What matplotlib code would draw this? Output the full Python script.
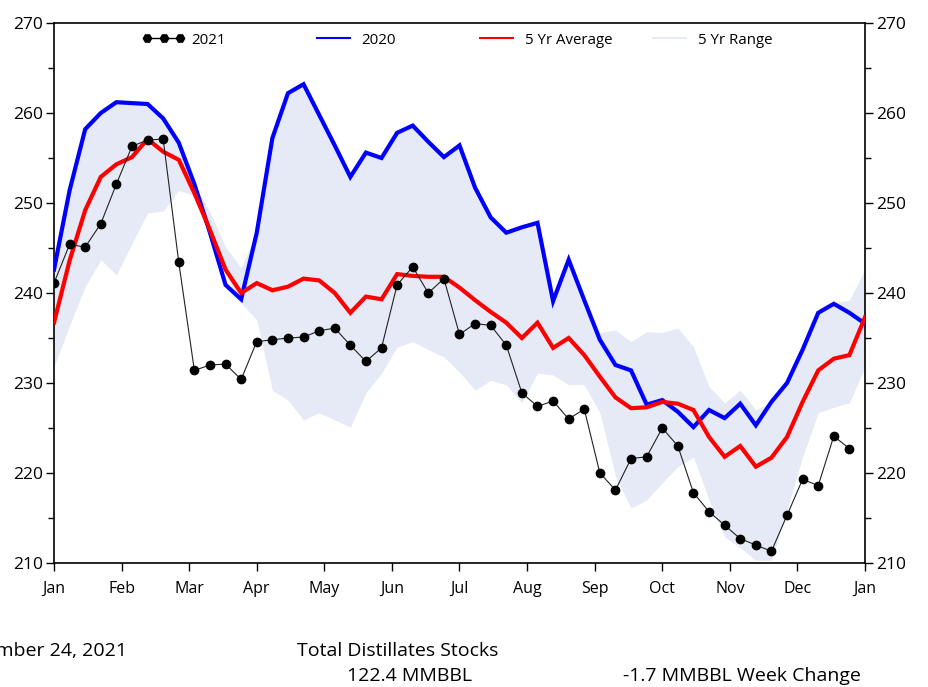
import matplotlib
matplotlib.use("Agg")
import matplotlib.pyplot as plt
from matplotlib.lines import Line2D
from matplotlib.legend import Legend
from matplotlib.ticker import MultipleLocator
import numpy as np

plt.rcParams['font.family'] = ['Open Sans', 'DejaVu Sans']

months = ["Jan", "Feb", "Mar", "Apr", "May", "Jun", "Jul", "Aug", "Sep", "Oct", "Nov", "Dec", "Jan"]

stocks_2021 = [241.1, 245.4, 245.1, 247.7, 252.1, 256.3, 257.0, 257.1, 243.4, 231.4,
               232.0, 232.1, 230.4, 234.6, 234.8, 235.0, 235.1, 235.8, 236.1, 234.2,
               232.4, 233.9, 240.9, 242.9, 240.0, 241.6, 235.4, 236.6, 236.4, 234.2,
               228.9, 227.4, 228.0, 226.0, 227.1, 220.0, 218.1, 221.6, 221.8, 225.0,
               223.0, 217.8, 215.7, 214.2, 212.7, 212.0, 211.3, 215.3, 219.3, 218.6,
               224.1, 222.7]

stocks_2020 = [242.6, 251.4, 258.2, 260.0, 261.2, 261.1, 261.0, 259.4, 256.7, 252.1,
               246.7, 240.9, 239.3, 246.7, 257.2, 262.2, 263.2, 259.8, 256.4, 252.9,
               255.6, 255.0, 257.8, 258.6, 256.8, 255.1, 256.4, 251.7, 248.4, 246.7,
               247.3, 247.8, 239.1, 243.7, 239.2, 234.8, 232.0, 231.4, 227.6, 228.1,
               226.8, 225.1, 227.0, 226.1, 227.7, 225.3, 227.9, 230.0, 233.7, 237.8,
               238.8, 237.8, 236.6]

avg_5yr = [236.7, 243.6, 249.2, 252.9, 254.3, 255.1, 257.1, 255.7, 254.8, 251.1,
           247.0, 242.6, 240.0, 241.1, 240.3, 240.7, 241.6, 241.4, 240.0, 237.8,
           239.6, 239.3, 242.1, 241.9, 241.8, 241.8, 240.6, 239.2, 237.9, 236.7,
           235.0, 236.7, 233.9, 235.0, 233.1, 230.7, 228.4, 227.2, 227.3, 227.9,
           227.7, 227.0, 224.0, 221.8, 223.0, 220.7, 221.7, 224.0, 227.9, 231.4,
           232.7, 233.1, 237.3]

range_high = [242.6, 251.4, 258.2, 260.0, 261.2, 261.1, 261.0, 259.4, 256.7, 252.1,
              249.0, 245.1, 242.8, 246.7, 257.2, 262.2, 263.2, 259.8, 256.4, 252.9,
              255.6, 255.0, 257.8, 258.6, 256.8, 255.1, 256.4, 251.7, 248.4, 246.7,
              247.3, 247.8, 239.2, 243.7, 239.2, 235.6, 235.9, 234.6, 235.7, 235.6,
              236.1, 234.0, 229.6, 227.8, 229.2, 227.0, 227.9, 230.0, 233.7, 237.9,
              238.9, 239.2, 242.6]

range_low = [231.8, 236.4, 240.7, 243.7, 242.0, 245.5, 248.9, 249.1, 251.4, 250.8,
             246.5, 242.0, 238.9, 237.0, 229.2, 228.1, 225.9, 226.7, 225.9, 225.1,
             228.9, 231.1, 234.0, 234.6, 233.7, 232.9, 231.2, 229.2, 230.3, 229.8,
             227.8, 231.1, 230.9, 229.8, 229.8, 226.7, 219.6, 216.1, 217.0, 218.9,
             220.7, 221.8, 217.0, 212.9, 211.7, 210.3, 210.3, 215.9, 221.8, 226.7,
             227.3, 227.8, 231.8]

bottom_texts = ["December 24, 2021", "Total Distillates Stocks", "122.4 MMBBL",
                "-1.7 MMBBL Week Change"]

W, H = 929, 687
fig = plt.figure(figsize=(W / 100, H / 100), dpi=100)
ax = fig.add_axes([54 / W, 1 - 563 / H, (865 - 54) / W, (563 - 23) / H])

def wk(n):
    return np.arange(n) * 12.0 / 52.0

band_color = '#e6e9f6'
ax.fill_between(wk(len(range_low)), range_low, range_high, color=band_color, lw=0, zorder=1)
ax.plot(wk(len(stocks_2020)), stocks_2020, color='#0000ff', lw=3.0, zorder=3,
        solid_joinstyle='miter')
ax.plot(wk(len(avg_5yr)), avg_5yr, color='#ff0000', lw=3.0, zorder=4,
        solid_joinstyle='miter')
ax.plot(wk(len(stocks_2021)), stocks_2021, color='#222222', lw=0.8, marker='o',
        markersize=6, markerfacecolor='black', markeredgecolor='black', zorder=5)

ax.set_xlim(0, 12)
ax.set_ylim(210, 270)
ax.set_xticks(range(13))
ax.set_xticklabels(months)
ax.yaxis.set_major_locator(MultipleLocator(10))
ax.yaxis.set_minor_locator(MultipleLocator(5))
ax.tick_params(axis='y', which='both', left=True, right=True, labelleft=True,
               labelright=True, direction='out', labelsize=12.5, width=1, pad=2)
ax.tick_params(axis='y', which='major', length=6)
ax.tick_params(axis='y', which='minor', length=4)
ax.tick_params(axis='x', direction='out', length=6, labelsize=11.5, pad=7, width=1)
for s in ax.spines.values():
    s.set_linewidth(1.2)

# legend: four separate items at fixed positions
items = [
    (Line2D([], [], color='black', lw=1, marker='H', markersize=6), "2021", 143),
    (Line2D([], [], color='#0000ff', lw=1.5), "2020", 313),
    (Line2D([], [], color='#ff0000', lw=1.5), "5 Yr Average", 476),
    (Line2D([], [], color=band_color, lw=1.5), "5 Yr Range", 649),
]
for h, lab, xpx in items:
    lg = Legend(ax, [h], [lab], loc='center left', frameon=False, fontsize=10.8,
                handlelength=2.8, handletextpad=0.45, numpoints=3,
                borderpad=0, borderaxespad=0,
                bbox_to_anchor=(xpx / W, 1 - 40 / H), bbox_transform=fig.transFigure)
    ax.add_artist(lg)

fs = 14
fig.text(127 / W, 1 - 651 / H, bottom_texts[0], ha='right', va='center', fontsize=fs)
fig.text(297 / W, 1 - 651 / H, bottom_texts[1], ha='left', va='center', fontsize=fs)
fig.text(347 / W, 1 - 676 / H, bottom_texts[2], ha='left', va='center', fontsize=fs)
fig.text(623 / W, 1 - 676 / H, bottom_texts[3], ha='left', va='center', fontsize=fs)

fig.savefig("out.png", dpi=100)
